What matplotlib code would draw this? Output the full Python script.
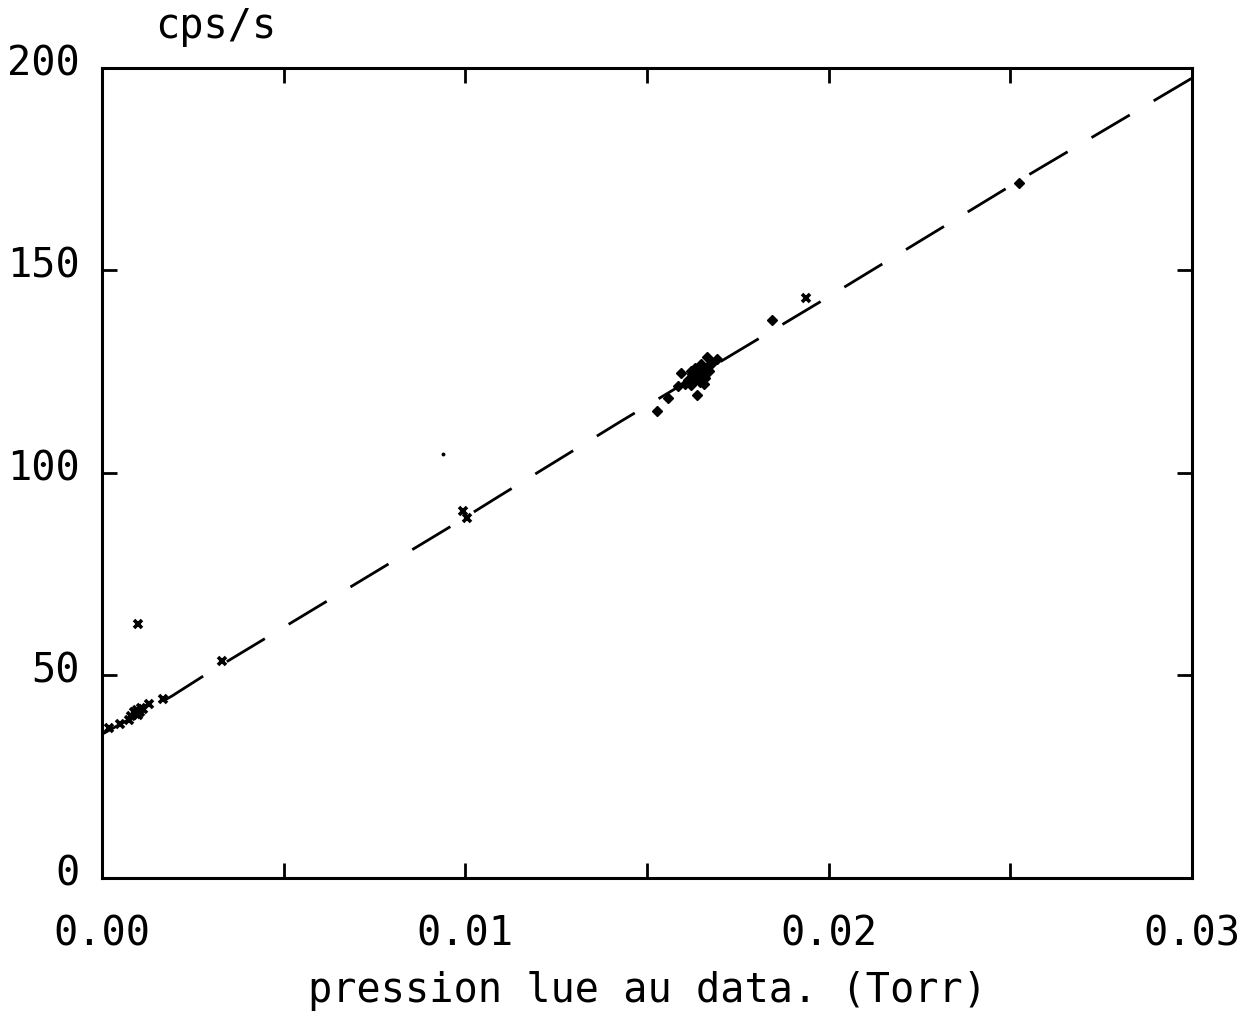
import matplotlib.pyplot as plt
import matplotlib.transforms as mtransforms

# fitted curve
fit_x = [0.0, 0.00192, 0.00297, 0.00956, 0.0109, 0.01427, 0.01756, 0.01981, 0.0255, 0.03]
fit_y = [35.5, 44.9, 50.9, 86.6, 94.1, 112.7, 130.4, 142.5, 173.6, 197.5]

# points drawn as small crosses
cross_x = [0.0002, 0.0005, 0.00075, 0.0008, 0.00088, 0.00096, 0.00105, 0.001, 0.00107,
           0.00094, 0.00113, 0.0013, 0.00167, 0.00331, 0.001, 0.00994, 0.01004, 0.01938]
cross_y = [37.0, 38.0, 39.0, 40.0, 41.0, 41.5, 41.0, 40.2, 42.0,
           40.5, 41.7, 43.0, 44.1, 53.6, 62.7, 90.6, 88.8, 143.1]

# points drawn as small diamonds
dot_x = [0.01527, 0.01557, 0.01584, 0.01593, 0.01638, 0.01692, 0.01664,
         0.01605, 0.01612, 0.01620, 0.01625, 0.01630, 0.01636, 0.01640, 0.01645,
         0.01650, 0.01655, 0.01660, 0.01668, 0.01675, 0.01679, 0.01632, 0.01648,
         0.01658, 0.01622, 0.01642, 0.01670, 0.01843, 0.02525]
dot_y = [115.3, 118.6, 121.5, 124.6, 119.3, 128.1, 128.6,
         122.0, 123.0, 121.8, 124.5, 122.6, 123.8, 125.0, 122.4,
         124.2, 125.6, 123.4, 126.3, 126.8, 127.4, 126.0, 127.0,
         121.9, 125.2, 123.5, 125.1, 137.9, 171.5]

stray_x = [0.00939]
stray_y = [104.6]

plt.rcParams['font.family'] = ['DejaVu Sans Mono']

fig = plt.figure(figsize=(12.5, 10.15), dpi=100)
ax = fig.add_axes([0.0816, 0.135, 0.872, 0.798])

line, = ax.plot(fit_x, fit_y, color='black', linewidth=2.0)
line.set_dashes((16, 10))
ax.plot(cross_x, cross_y, linestyle='none', marker='x', markersize=6,
        markeredgewidth=2.6, color='black')
ax.plot(dot_x, dot_y, linestyle='none', marker='D', markersize=5.5, color='black')
ax.plot(stray_x, stray_y, linestyle='none', marker='o', markersize=1.8, color='black')

ax.set_xlim(0, 0.03)
ax.set_ylim(0, 200)
ax.set_xticks([0.0, 0.01, 0.02, 0.03])
ax.set_xticklabels(['0.00', '0.01', '0.02', '0.03'])
ax.set_xticks([0.005, 0.015, 0.025], minor=True)
ax.set_yticks([0, 50, 100, 150, 200])
ax.set_yticklabels(['0', '50', '100', '150', '200'])

for s in ax.spines.values():
    s.set_linewidth(2.2)
ax.tick_params(which='both', direction='in', top=True, right=True,
               length=11, width=2)
ax.tick_params(axis='x', which='major', labelsize=29, pad=26)
ax.tick_params(axis='y', which='major', labelsize=29, pad=16)

shift = mtransforms.ScaledTranslation(0, 6 / 72, fig.dpi_scale_trans)
for lab in ax.get_yticklabels():
    lab.set_transform(lab.get_transform() + shift)

ax.set_xlabel('pression lue au data. (Torr)', fontsize=29, labelpad=12)
fig.text(0.124, 0.973, 'cps/s', fontsize=29, ha='left', va='center')

plt.savefig('out.png')
